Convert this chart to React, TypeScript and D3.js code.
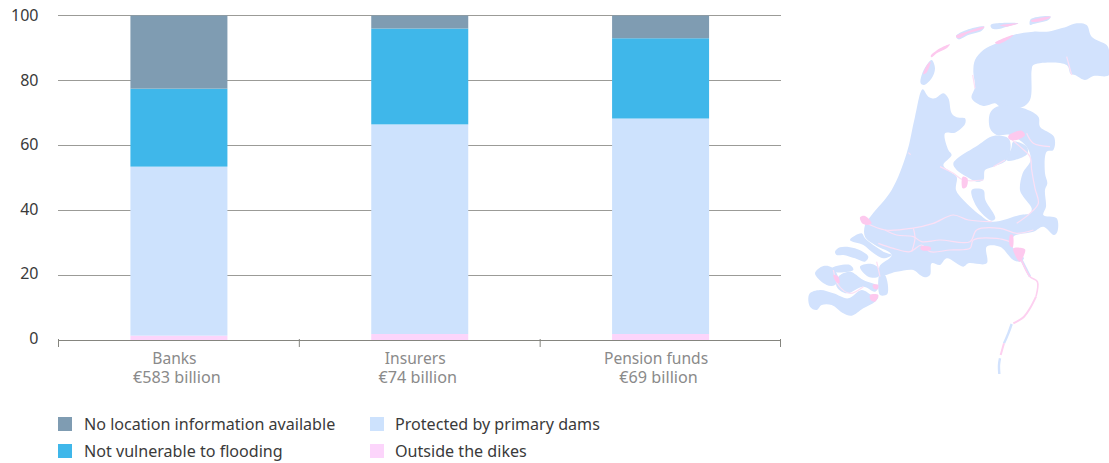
import React from "react";
import * as d3 from "d3";

const categories = ["Banks", "Insurers", "Pension funds"];
const subLabels = ["€583 billion", "€74 billion", "€69 billion"];
const yTicks = [0, 20, 40, 60, 80, 100];
const seriesNames = [
  "Outside the dikes",
  "Protected by primary dams",
  "Not vulnerable to flooding",
  "No location information available",
];
const seriesColors = ["#fcd5fb", "#cde2fd", "#3fb7ea", "#7f9cb2"];
const outside = [1.5, 2, 2];
const protectedDams = [52, 64.5, 66.3];
const notVulnerable = [24, 29.5, 24.7];
const noLocation = [22.5, 4, 7];
const legendOrder = [
  { name: 3, col: 0, row: 0 },
  { name: 2, col: 0, row: 1 },
  { name: 1, col: 1, row: 0 },
  { name: 0, col: 1, row: 1 },
];

type P = [number, number][];
// Decorative map outlines, in map units
const landShapes: P[] = [
  [[395,180],[405,205],[395,235],[372,255],[362,250],[365,225],[380,195]],
  [[572,75],[590,70],[655,70],[620,80],[590,88],[575,85]],
  [[692,58],[752,50],[745,60],[700,72],[690,75]],
  [[468,108],[500,90],[553,80],[545,92],[505,105],[475,118]],
  [[520,215],[525,180],[550,150],[590,130],[640,105],[700,95],[740,95],[800,80],[830,70],[860,75],[875,110],[920,135],[927,150],[927,225],[880,228],[855,240],[825,225],[812,222],[800,195],[700,195],[695,210],[690,300],[665,322],[600,320],[585,310],[550,318],[515,295],[525,260]],
  [[570,340],[590,320],[660,322],[715,350],[720,380],[762,410],[760,450],[740,455],[735,520],[742,550],[735,570],[738,620],[730,645],[770,655],[772,695],[762,705],[730,680],[700,695],[640,710],[640,745],[672,775],[660,785],[640,780],[600,740],[560,740],[560,790],[505,790],[490,800],[440,775],[420,795],[395,790],[390,825],[375,832],[360,825],[340,810],[290,815],[245,825],[238,800],[275,765],[225,735],[195,710],[195,675],[215,645],[275,570],[320,460],[345,350],[368,268],[385,290],[405,295],[430,280],[445,295],[455,340],[470,352],[495,355],[495,372],[465,398],[435,400],[445,450],[455,465],[430,495],[450,515],[470,530],[468,570],[490,600],[540,645],[575,665],[660,645],[690,640],[695,625],[670,590],[660,570],[668,520],[692,480],[680,440],[630,405],[590,405],[570,385]],
  [[460,490],[535,435],[580,408],[625,415],[632,440],[620,480],[580,500],[555,510],[550,540],[530,545],[500,530],[470,510]],
  [[640,425],[680,440],[682,462],[622,482],[634,445]],
  [[515,570],[550,570],[556,600],[586,655],[575,662],[530,620]],
  [[150,720],[185,700],[195,715],[250,755],[275,765],[250,775],[215,755],[190,735]],
  [[105,755],[120,742],[165,745],[205,770],[195,785],[165,775],[130,765],[110,765]],
  [[180,800],[215,792],[240,810],[235,830],[205,830]],
  [[95,805],[150,795],[160,810],[100,815]],
  [[45,820],[70,798],[95,802],[115,835],[105,855],[80,855]],
  [[115,830],[150,815],[190,840],[235,860],[225,875],[190,860],[140,880],[110,860]],
  [[240,820],[255,825],[262,882],[240,885]],
  [[28,882],[60,870],[100,880],[145,895],[185,870],[215,885],[235,890],[225,905],[190,925],[155,947],[130,940],[95,915],[65,915],[50,930],[30,920]],
];
const pinkShapes: P[] = [
  [[392,168],[420,145],[450,133],[440,145],[410,160],[395,172]],
  [[468,108],[500,95],[553,80],[545,88],[505,100],[475,115]],
  [[600,76],[655,70],[620,80]],
  [[692,62],[752,50],[745,56],[700,66]],
  [[585,128],[640,105],[625,118],[595,132]],
  [[385,190],[392,185],[378,220],[370,222]],
  [[625,408],[665,392],[675,405],[650,420],[628,418]],
  [[180,652],[195,648],[215,670],[200,675],[185,668]],
  [[488,530],[502,535],[500,560],[488,565]],
  [[640,745],[675,748],[672,765],[660,785],[645,765]],
  [[210,885],[235,885],[225,905],[212,900]],
  [[218,855],[235,855],[232,868],[222,866]],
  [[100,825],[115,830],[118,850],[108,845]],
  [[362,740],[392,742],[392,750],[364,750]],
  [[630,705],[638,705],[638,742],[630,738]],
];
const riverLines: P[] = [
  [[200,670],[255,690],[335,685],[400,670],[460,645],[505,660],[575,665]],
  [[255,690],[290,705],[340,710],[365,725],[420,720],[510,725],[530,690],[600,685],[650,700],[700,690]],
  [[235,730],[280,745],[330,755],[365,735],[390,755],[450,750],[510,745],[520,720],[590,715],[630,725]],
  [[340,685],[345,715],[335,755]],
  [[630,415],[660,440],[690,470],[695,510],[705,565],[715,610],[690,640],[650,670]],
  [[680,400],[700,430],[750,440]],
  [[800,170],[815,225]],
  [[518,225],[525,265]],
  [[420,500],[460,520],[490,540],[550,540]],
  [[580,500],[615,480]],
  [[100,810],[115,855],[150,880],[190,860]],
  [[230,785],[240,830]],
  [[325,458],[332,464]],
];
const meuseBlue: P[] = [
  [[662,775],[690,830]],
  [[635,972],[625,1000],[612,1030]],
  [[600,1075],[597,1095],[598,1122]],
];
const meusePink: P[] = [
  [[662,775],[690,830],[712,845],[708,890]],
  [[708,890],[690,925],[672,950],[640,970]],
  [[612,1030],[602,1065]],
];

const width = 1109;
const height = 463;
const x = d3.scaleBand().domain(categories).range([58.5, 781]);
const y = d3.scaleLinear().domain([0, 100]).range([340.5, 15.5]);
const labelY = d3.scaleLinear().domain([0, 100]).range([343.5, 21]);
const barW = 97;
const mapX = d3.scaleLinear().domain([0, 927]).range([800, 1109]);
const mapY = d3.scaleLinear().domain([0, 1140]).range([0, 380]);
const smooth = d3.line<[number, number]>().x((d) => mapX(d[0])).y((d) => mapY(d[1])).curve(d3.curveCatmullRomClosed.alpha(0.5));
const river = d3.line<[number, number]>().x((d) => mapX(d[0])).y((d) => mapY(d[1])).curve(d3.curveCatmullRom.alpha(0.5));

const table = categories.map((c, i) => ({
  cat: c,
  s0: outside[i],
  s1: protectedDams[i],
  s2: notVulnerable[i],
  s3: noLocation[i],
}));
const stacked = d3.stack<any>().keys(["s0", "s1", "s2", "s3"])(table);
const font = "'Noto Sans', sans-serif";

export default function App() {
  return (
    <svg width={width} height={height} style={{ position: "absolute", left: 0, top: 0, background: "#fff" }} fontFamily={font}>
      <defs>
        <filter id="soft" x="-5%" y="-5%" width="110%" height="110%">
          <feGaussianBlur stdDeviation="0.45" />
        </filter>
      </defs>
      <g>
        {yTicks.map((t) => (
          <g key={t}>
            {t > 0 && <line x1={58} x2={781} y1={y(t)} y2={y(t)} stroke="#9b9b97" strokeWidth={1.2} />}
            <text x={38.5} y={labelY(t)} textAnchor="end" fontSize={16} fill="#3a3a3a">{t}</text>
          </g>
        ))}
      </g>
      {stacked.map((layer, si) => (
        <g key={si} fill={seriesColors[si]}>
          {layer.map((d, i) => (
            <rect key={i} x={x(categories[i])! + x.bandwidth() / 2 - barW / 2} width={barW} y={y(d[1])} height={y(d[0]) - y(d[1])} />
          ))}
        </g>
      ))}
      <line x1={58.5} x2={781} y1={340.5} y2={340.5} stroke="#85857f" />
      {[...categories.map((c) => x(c)!), 781 - 0.5].map((v, i) => (
        <line key={i} x1={v} x2={v} y1={339} y2={347} stroke="#85857f" />
      ))}
      {categories.map((c, i) => (
        <g key={c} textAnchor="middle" fill="#8a8a8a">
          <text x={x(c)! + x.bandwidth() / 2 - 4.5} y={364} fontSize={15.6}>{c}</text>
          <text x={x(c)! + x.bandwidth() / 2 - 2} y={383} fontSize={16.2}>{subLabels[i]}</text>
        </g>
      ))}
      {legendOrder.map((l) => {
        const lx = l.col === 0 ? 58 : 370;
        const ly = l.row === 0 ? 417 : 444;
        return (
          <g key={l.name}>
            <rect x={lx} y={ly} width={14} height={14} fill={seriesColors[l.name]} />
            <text x={l.col === 0 ? lx + 26 : lx + 25} y={ly + 13} fontSize={16.1} fill="#3a3a3a">{seriesNames[l.name]}</text>
          </g>
        );
      })}
      <g filter="url(#soft)">
        {landShapes.map((s, i) => (
          <path key={i} d={smooth(s)!} fill="#d2e2fd" />
        ))}
        {meuseBlue.map((s, i) => (
          <path key={i} d={river(s)!} fill="none" stroke="#d2e2fd" strokeWidth={2.4} />
        ))}
        {meusePink.map((s, i) => (
          <path key={i} d={river(s)!} fill="none" stroke="#fdd0f0" strokeWidth={i === 0 ? 1.6 : 2} />
        ))}
        {riverLines.map((s, i) => (
          <path key={i} d={river(s)!} fill="none" stroke="#fce0f5" strokeWidth={1.2} />
        ))}
        {pinkShapes.map((s, i) => (
          <path key={i} d={smooth(s)!} fill="#fdc9ee" />
        ))}
      </g>
    </svg>
  );
}
